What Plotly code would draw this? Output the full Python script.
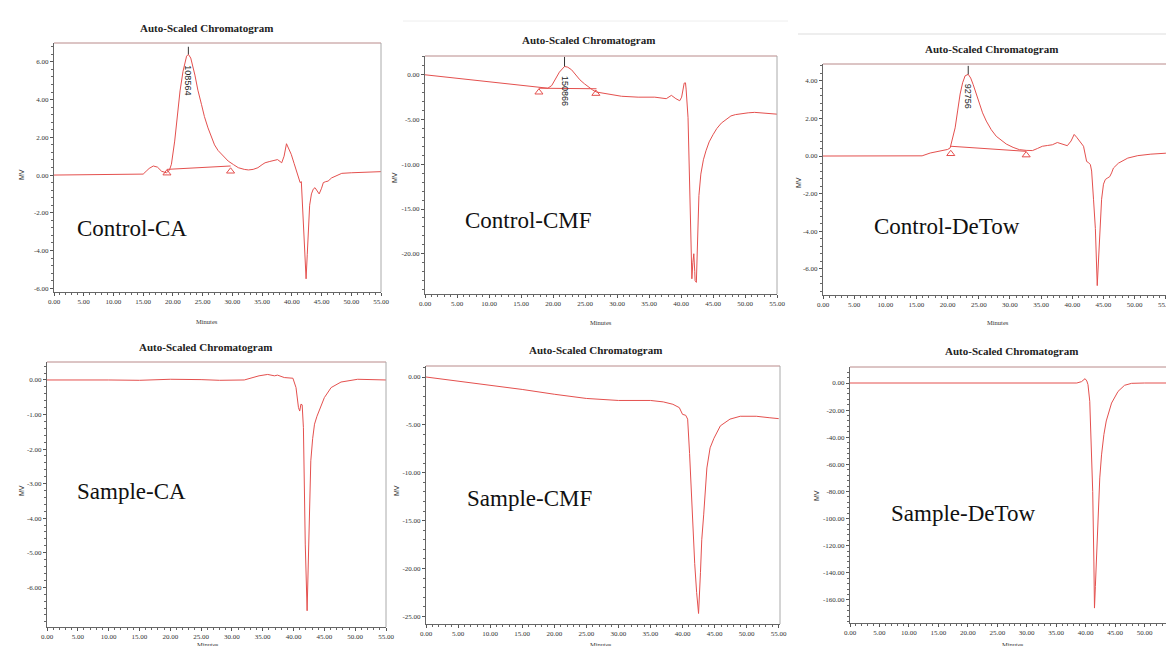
import plotly.graph_objects as go

W, H = 1174, 646

# ---------------- data (minutes, mV) ----------------
control_ca = [(0,0.0),(5,0.02),(10,0.03),(15,0.05),(15.5,0.2),(16,0.35),(16.7,0.48),(17.4,0.42),(18.1,0.2),(18.9,0.12),
              (19.4,0.25),(19.75,0.57),(20.3,1.8),(20.8,3.2),(21.2,4.46),(21.7,5.5),(22.0,5.9),(22.3,6.3),(22.6,6.4),(23.0,6.2),
              (23.7,5.3),(24.2,4.5),(24.8,3.75),(25.3,3.1),(25.9,2.5),(26.5,2.0),(27.0,1.6),(27.6,1.3),(28.2,1.1),(29.3,0.74),
              (30.2,0.55),(31.0,0.39),(32.0,0.3),(32.7,0.27),(33.5,0.3),(34.3,0.39),(35.0,0.55),(35.5,0.65),(36.3,0.72),(37.1,0.78),
              (37.6,0.82),(38.3,0.65),(38.7,1.0),(39.1,1.66),(39.5,1.4),(39.9,1.1),(40.4,0.6),(40.8,0.2),(41.1,-0.2),(41.4,-0.4),
              (41.6,-0.35),(41.9,-2.1),(42.1,-4.0),(42.4,-5.5),(42.6,-4.2),(42.8,-2.6),(43.0,-1.6),(43.3,-1.0),(43.6,-0.75),(43.9,-0.67),
              (44.3,-0.85),(44.6,-1.0),(45.0,-0.7),(45.3,-0.4),(45.7,-0.35),(46.1,-0.32),(46.7,-0.15),(47.3,-0.05),(48.4,0.09),(50,0.12),
              (51.2,0.14),(53,0.16),(55,0.18)]
control_cmf = [(0,0.0),(5,-0.38),(10,-0.76),(15,-1.15),(17.7,-1.37),(19.2,-1.5),(19.8,-1.2),(20.3,-0.56),(21.0,0.3),(21.8,0.93),
               (22.3,0.85),(22.9,0.56),(23.5,0.0),(24.2,-0.56),(24.9,-1.0),(25.5,-1.37),(26.2,-1.7),(26.8,-1.93),(28.6,-2.15),(30.7,-2.4),
               (33.3,-2.5),(35.9,-2.5),(37.7,-2.67),(38.5,-2.3),(39.2,-2.67),(39.8,-2.9),(40.1,-2.5),(40.3,-1.85),(40.5,-0.93),(40.7,-0.9),
               (40.8,-1.6),(41.1,-4.8),(41.3,-11.1),(41.5,-19.0),(41.6,-22.3),(41.7,-22.8),(41.85,-21.0),(42.0,-20.0),(42.15,-22.0),(42.2,-23.0),
               (42.4,-23.2),(42.6,-16.7),(42.8,-13.5),(43.1,-11.1),(43.5,-9.5),(43.9,-8.5),(44.4,-7.5),(45.0,-6.7),(45.6,-6.0),(46.3,-5.4),
               (47.0,-5.0),(47.8,-4.6),(48.5,-4.45),(49.4,-4.35),(50.5,-4.25),(51.5,-4.2),(53,-4.25),(55,-4.4)]
control_detow = [(0,0.0),(5,0.0),(10,0.0),(15.9,0.01),(17.2,0.16),(18.8,0.25),(20.0,0.35),(20.4,0.43),(20.8,0.9),(21.2,1.5),
                 (21.6,2.4),(22.0,3.3),(22.4,3.9),(22.8,4.27),(23.3,4.35),(23.7,4.15),(24.1,3.8),(24.6,3.3),(25.1,2.75),(25.6,2.3),
                 (26.2,1.86),(27.0,1.4),(27.8,1.05),(28.6,0.82),(29.4,0.64),(30.5,0.46),(31.5,0.34),(32.6,0.3),(33.6,0.29),(34.4,0.4),
                 (35.2,0.52),(36.0,0.56),(36.8,0.6),(37.6,0.72),(38.4,0.65),(39.2,0.55),(39.8,0.8),(40.3,1.15),(40.7,1.0),(41.0,0.85),
                 (41.4,0.7),(41.8,0.52),(42.3,-0.29),(42.6,-0.35),(42.9,-0.46),(43.1,-0.8),(43.4,-2.3),(43.7,-3.86),(44.0,-6.9),(44.2,-5.5),
                 (44.4,-3.8),(44.7,-2.3),(45.0,-1.5),(45.3,-1.25),(45.6,-1.18),(46.0,-1.1),(46.3,-0.9),(46.6,-0.64),(47.4,-0.38),(48.9,-0.11),
                 (50.5,0.02),(52.6,0.1),(55,0.15),(57.6,0.18)]
sample_ca = [(0,0.0),(5,0.01),(10,0.0),(15,-0.01),(20,0.02),(25,0.01),(28,-0.01),(32,0.0),(34.4,0.12),(35.8,0.16),
             (36.9,0.12),(37.4,0.14),(38.5,0.07),(39.9,0.05),(40.4,-0.22),(40.8,-0.8),(41.0,-0.9),(41.2,-0.7),(41.4,-0.72),(41.6,-1.38),
             (41.9,-4.75),(42.2,-6.68),(42.5,-4.6),(42.8,-2.34),(43.1,-1.7),(43.4,-1.28),(43.8,-1.05),(44.2,-0.85),(45.0,-0.51),(46.1,-0.22),
             (47.7,-0.06),(50.4,0.02),(55,0.0)]
sample_cmf = [(0,0.0),(5,-0.42),(10,-0.84),(15,-1.3),(20,-1.8),(25,-2.24),(30,-2.45),(35,-2.45),(37,-2.6),(38.5,-2.85),
              (39.5,-3.2),(40.0,-3.9),(40.5,-4.0),(40.8,-4.4),(41.1,-8.0),(41.5,-14.0),(41.9,-19.5),(42.2,-22.5),(42.5,-24.7),(42.8,-20.4),
              (43.0,-17.0),(43.3,-14.4),(43.8,-9.5),(44.3,-7.4),(44.9,-6.4),(45.9,-5.1),(47.4,-4.4),(49.0,-4.1),(51.5,-4.1),(53.5,-4.25),
              (55,-4.35)]
sample_detow = [(0,0.0),(10,0.0),(20,0.0),(30,0.0),(38.5,0.0),(39.3,1.0),(39.9,3.2),(40.2,1.5),(40.4,-1.2),(40.7,-13.5),
                (41.0,-45.6),(41.2,-80),(41.4,-132),(41.5,-166),(41.65,-150),(41.8,-132),(42.1,-92),(42.4,-70),(42.7,-53),(43.1,-38),
                (43.5,-28),(44.4,-14.8),(45.5,-6.2),(46.6,-1.7),(47.8,-0.25),(50,0.0),(55,0.0)]

sample_names = ["Control-CA", "Control-CMF", "Control-DeTow", "Sample-CA", "Sample-CMF", "Sample-DeTow"]
series = [control_ca, control_cmf, control_detow, sample_ca, sample_cmf, sample_detow]

# integration baselines, peak apex and peak area labels (control panels only)
peak_baselines = {0: [(19.0, 0.3), (29.7, 0.48)], 1: [(17.8, -1.5), (26.8, -1.56)], 2: [(20.5, 0.52), (32.6, 0.25)]}
peak_markers = {0: [(19.0, 0.1), (29.7, 0.2)], 1: [(17.8, -1.95), (26.7, -2.1)], 2: [(20.5, 0.12), (32.6, 0.05)]}
peak_apex = {0: (22.6, 6.4, 6.8), 1: (21.8, 0.93, 2.0), 2: (23.3, 4.35, 4.8)}
peak_areas = {0: ("108564", 5.0), 1: ("150866", -1.75), 2: ("92756", 3.2)}

x_ticks = [0, 5, 10, 15, 20, 25, 30, 35, 40, 45, 50, 55]
y_ticks = [[-6, -4, -2, 0, 2, 4, 6], [-20, -15, -10, -5, 0], [-6, -4, -2, 0, 2, 4],
           [-6, -5, -4, -3, -2, -1, 0], [-25, -20, -15, -10, -5, 0],
           [-160, -140, -120, -100, -80, -60, -40, -20, 0]]
x_minor = 1
y_minor = [0.4, 1, 0.4, 0.2, 1, 4]

# ---------------- layout geometry (pixels) ----------------
boxes = [(46, 373, 35, 284), (417, 769, 48, 286), (815, 1174, 56, 287),
         (39, 378, 354, 619), (418, 772, 358, 616), (842, 1166, 359, 615)]
y_ranges = [(-6.2, 7.0), (-24.5, 2.1), (-7.4, 4.9), (-7.15, 0.52), (-25.8, 1.15), (-177, 11.8)]
x_max = [55, 55, 57.6, 55, 55.2, 55]
title_pos = [(198, 20), (580, 32), (983, 41), (197, 339), (587, 342), (1003, 343)]
minutes_pos = [(199, 313), (593, 314), (990, 314), (200, 636.5), (593, 636.5), (1005, 636.5)]
mv_pos = [(13, 167), (387, 170), (790, 175), (13, 483), (388, 483), (809, 488)]
name_pos = [(124, 221), (520, 212), (939, 218), (123, 483), (521, 490), (955, 505)]

LINE = "#e4504e"
SERIF = "Liberation Serif"


def px(x):
    return x / W


def py(y):
    return 1 - y / H


fig = go.Figure()
annotations = []
shapes = []
layout_axes = {}

for i, data in enumerate(series):
    n = "" if i == 0 else str(i + 1)
    xa, ya = "x" + n, "y" + n
    l, r, t, b = boxes[i]
    fig.add_trace(go.Scatter(x=[p[0] for p in data], y=[p[1] for p in data], mode="lines",
                             line=dict(color=LINE, width=1), xaxis=xa, yaxis=ya, showlegend=False))
    if i in peak_baselines:
        bl = peak_baselines[i]
        fig.add_trace(go.Scatter(x=[p[0] for p in bl], y=[p[1] for p in bl], mode="lines",
                                 line=dict(color=LINE, width=1), xaxis=xa, yaxis=ya, showlegend=False))
        mk = peak_markers[i]
        fig.add_trace(go.Scatter(x=[p[0] for p in mk], y=[p[1] for p in mk], mode="markers",
                                 marker=dict(symbol="triangle-up-open", size=7, color=LINE, line=dict(width=1, color=LINE)),
                                 xaxis=xa, yaxis=ya, showlegend=False))
        ax_, ay0, ay1 = peak_apex[i]
        fig.add_trace(go.Scatter(x=[ax_, ax_], y=[ay0, ay1], mode="lines",
                                 line=dict(color="#333333", width=1), xaxis=xa, yaxis=ya, showlegend=False))
        txt, ty = peak_areas[i]
        annotations.append(dict(x=ax_, y=ty, xref=xa, yref=ya, text=txt, showarrow=False, textangle=90,
                                font=dict(family="Liberation Sans", size=9, color="#222222")))

    common = dict(ticks="outside", ticklen=3, tickcolor="#555555", tickwidth=1,
                  tickfont=dict(family=SERIF, size=7, color="#333333"), automargin=False,
                  showline=True, linecolor="#666666", linewidth=1, showgrid=False, zeroline=False)
    layout_axes["xaxis" + n] = dict(
        domain=[px(l), px(r)], range=[0, x_max[i]], anchor=ya,
        tickmode="array", tickvals=x_ticks, ticktext=[f"{v:.2f}" for v in x_ticks],
        minor=dict(tickmode="linear", tick0=0, dtick=x_minor, ticks="outside", ticklen=2, tickcolor="#666666", showgrid=False),
        **common)
    layout_axes["yaxis" + n] = dict(
        domain=[py(b), py(t)], range=list(y_ranges[i]), anchor=xa,
        tickmode="array", tickvals=y_ticks[i], ticktext=[f"{v:.2f}" for v in y_ticks[i]],
        minor=dict(tickmode="linear", tick0=0, dtick=y_minor[i], ticks="outside", ticklen=2, tickcolor="#666666", showgrid=False),
        **common)
    # top and right frame
    shapes.append(dict(type="line", xref="paper", yref="paper", x0=px(l), x1=px(r), y0=py(t), y1=py(t),
                       line=dict(color="#b98a8a", width=1)))
    shapes.append(dict(type="line", xref="paper", yref="paper", x0=px(r), x1=px(r), y0=py(t), y1=py(b),
                       line=dict(color="#aaaaaa", width=1)))

    tx, ty_ = title_pos[i]
    annotations.append(dict(x=px(tx), y=py(ty_), xref="paper", yref="paper", text="<b>Auto-Scaled Chromatogram</b>",
                            showarrow=False, xanchor="center", yanchor="middle",
                            font=dict(family=SERIF, size=11, color="#222222")))
    mx, my = minutes_pos[i]
    annotations.append(dict(x=px(mx), y=py(my), xref="paper", yref="paper", text="Minutes",
                            showarrow=False, xanchor="center", yanchor="middle", borderpad=0,
                            font=dict(family=SERIF, size=6.5, color="#333333")))
    vx, vy = mv_pos[i]
    annotations.append(dict(x=px(vx), y=py(vy), xref="paper", yref="paper", text="MV", textangle=-90,
                            showarrow=False, xanchor="center", yanchor="middle",
                            font=dict(family="Liberation Sans", size=7, color="#333333")))
    nx, ny = name_pos[i]
    annotations.append(dict(x=px(nx), y=py(ny), xref="paper", yref="paper", text=sample_names[i],
                            showarrow=False, xanchor="center", yanchor="middle",
                            font=dict(family=SERIF, size=23, color="#111111")))

# faint page separators seen in the source image
shapes.append(dict(type="line", xref="paper", yref="paper", x0=px(395), x1=px(780), y0=py(13), y1=py(13),
                   line=dict(color="#eeeeee", width=1)))
shapes.append(dict(type="line", xref="paper", yref="paper", x0=px(790), x1=px(1174), y0=py(26), y1=py(26),
                   line=dict(color="#dddddd", width=1)))

fig.update_layout(template="none", width=W, height=H, margin=dict(l=0, r=0, t=0, b=0, pad=0),
                  paper_bgcolor="white", plot_bgcolor="white", showlegend=False,
                  annotations=annotations, shapes=shapes, **layout_axes)

fig.write_html("out.html")
